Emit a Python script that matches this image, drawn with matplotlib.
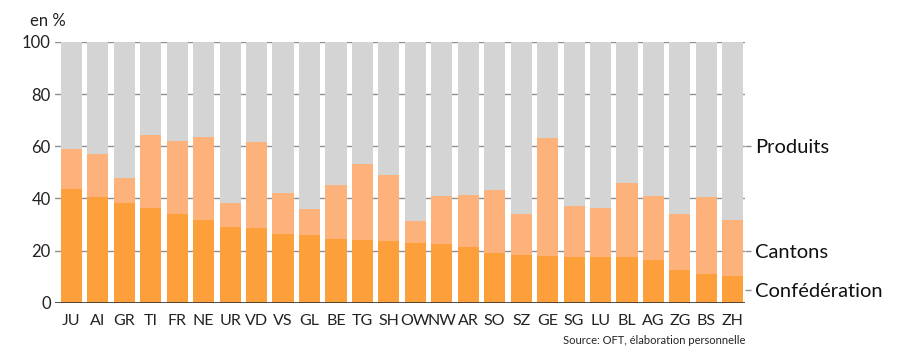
import matplotlib
matplotlib.use("Agg")
import matplotlib.pyplot as plt
import numpy as np

plt.rcParams['font.family'] = ['Lato', 'DejaVu Sans']

# Données (en %)
cantons_codes = ['JU', 'AI', 'GR', 'TI', 'FR', 'NE', 'UR', 'VD', 'VS', 'GL', 'BE', 'TG', 'SH',
                 'OW', 'NW', 'AR', 'SO', 'SZ', 'GE', 'SG', 'LU', 'BL', 'AG', 'ZG', 'BS', 'ZH']
confederation = [43.7, 40.4, 38.3, 36.5, 34.1, 31.7, 29.2, 28.8, 26.5, 26.0, 24.5, 24.2, 23.7,
                 22.8, 22.7, 21.4, 19.2, 18.3, 18.1, 17.7, 17.5, 17.5, 16.4, 12.6, 10.9, 10.4]
cumul_cantons = [58.9, 57.1, 47.8, 64.2, 62.2, 63.7, 38.1, 61.7, 42.2, 35.9, 45.3, 53.1, 49.1,
                 31.3, 41.0, 41.4, 43.2, 34.2, 63.1, 37.2, 36.5, 46.0, 41.0, 34.2, 40.4, 31.9]

conf = np.array(confederation)
cant = np.array(cumul_cantons) - conf
prod = 100 - np.array(cumul_cantons)

c_conf = '#fd9f3b'
c_cant = '#fdb27c'
c_prod = '#d4d4d4'

fig = plt.figure(figsize=(9, 3.64), dpi=100)
ax = fig.add_axes([55/900, 1-302.7/364, 690/900, (302.7-42)/364])

x = np.arange(len(cantons_codes))
for y in [20, 40, 60, 80, 100]:
    ax.axhline(y, color='#8f8f8f', lw=1.0, zorder=0)
ax.bar(x, conf, width=0.8, color=c_conf, zorder=2)
ax.bar(x, cant, bottom=conf, width=0.8, color=c_cant, zorder=2)
ax.bar(x, prod, bottom=conf + cant, width=0.8, color=c_prod, zorder=2)
ax.axhline(0, color='#333333', lw=1.2, zorder=3)

ax.set_xlim(-0.62, 25.46)
ax.set_ylim(0, 100)
ax.set_yticks([0, 20, 40, 60, 80, 100])
ax.set_xticks(x)
ax.set_xticklabels(cantons_codes)
ax.tick_params(axis='y', length=0, pad=3, labelsize=12, labelcolor='#222222')
ax.tick_params(axis='x', length=0, pad=8, labelsize=11.5, labelcolor='#222222')
for s in ax.spines.values():
    s.set_visible(False)

ax2 = ax.twinx()
ax2.set_ylim(0, 100)
ax2.set_yticks([5, 20, 60])
ax2.set_yticklabels(['Confédération', 'Cantons', 'Produits'])
ax2.tick_params(axis='y', length=4.5, width=1, color='#8f8f8f', pad=3, labelsize=14.5,
                labelcolor='#111111')
for s in ax2.spines.values():
    s.set_visible(False)

fig.text(30/900, 1-21/364, 'en %', fontsize=12, color='#222222', va='center', ha='left')
fig.text(745/900, 1-341/364, 'Source: OFT, élaboration personnelle', fontsize=8,
         color='#222222', va='center', ha='right')

fig.savefig('out.png', dpi=100)
